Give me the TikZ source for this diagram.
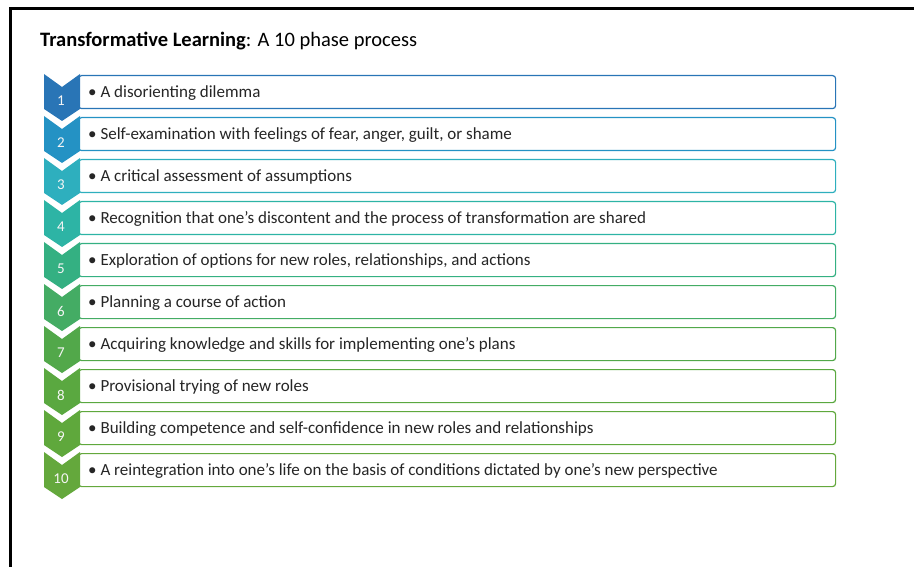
\documentclass[tikz,border=0pt]{standalone}
\usepackage{fontspec}
\setmainfont{Carlito}
\usetikzlibrary{positioning}
% phase colours, blue to green
\definecolor{ph1}{RGB}{41,117,182}
\definecolor{ph2}{RGB}{36,146,196}
\definecolor{ph3}{RGB}{46,175,190}
\definecolor{ph4}{RGB}{45,180,165}
\definecolor{ph5}{RGB}{52,176,130}
\definecolor{ph6}{RGB}{68,172,100}
\definecolor{ph7}{RGB}{82,168,74}
\definecolor{ph8}{RGB}{90,168,64}
\definecolor{ph9}{RGB}{95,168,60}
\definecolor{ph10}{RGB}{100,168,60}
\tikzset{
  phasebox/.style={draw, line width=1.2pt, rounded corners=3pt, fill=white,
    minimum width=757pt, minimum height=33pt, inner sep=0pt, anchor=north west},
  phasetext/.style={anchor=west, inner sep=0pt, text=black!85,
    font=\fontsize{17}{20}\selectfont},
  phasenum/.style={text=white!92!gray, font=\fontsize{15}{18}\selectfont}
}
\begin{document}
\begin{tikzpicture}[x=1pt, y=-1pt]
\useasboundingbox (0,0) rectangle (914,567);
% Frame
\draw [line width=3pt] (914,9) -- (10,9) -- (10,567);
% Title
\node [anchor=base west, inner sep=0pt, font=\fontsize{20.5}{24}\selectfont] (title) at (40,47)
  {\textbf{Transformative Learning}: A 10 phase process};
% Phases: box, chevron, number, text
\foreach \i/\txt in {
  1/{A disorienting dilemma},
  2/{Self-examination with feelings of fear, anger, guilt, or shame},
  3/{A critical assessment of assumptions},
  4/{Recognition that one's discontent and the process of transformation are shared},
  5/{Exploration of options for new roles, relationships, and actions},
  6/{Planning a course of action},
  7/{Acquiring knowledge and skills for implementing one's plans},
  8/{Provisional trying of new roles},
  9/{Building competence and self-confidence in new roles and relationships},
  10/{A reintegration into one's life on the basis of conditions dictated by one's new perspective}} {
  \pgfmathsetmacro\t{75+42*(\i-1)}
  \node [phasebox, draw=ph\i] (box\i) at (78,\t) {};
  \fill [ph\i] (44,\t-1) -- (62,\t+12) -- (80,\t-1) -- (80,\t+34) -- (62,\t+46) -- (44,\t+34) -- cycle;
  \node [phasenum] (num\i) at (61,\t+26) {\i};
  \node [phasetext] (item\i) at ([xshift=10pt,yshift=-1pt]box\i.west) {•\ \txt};
}
\end{tikzpicture}
\end{document}
